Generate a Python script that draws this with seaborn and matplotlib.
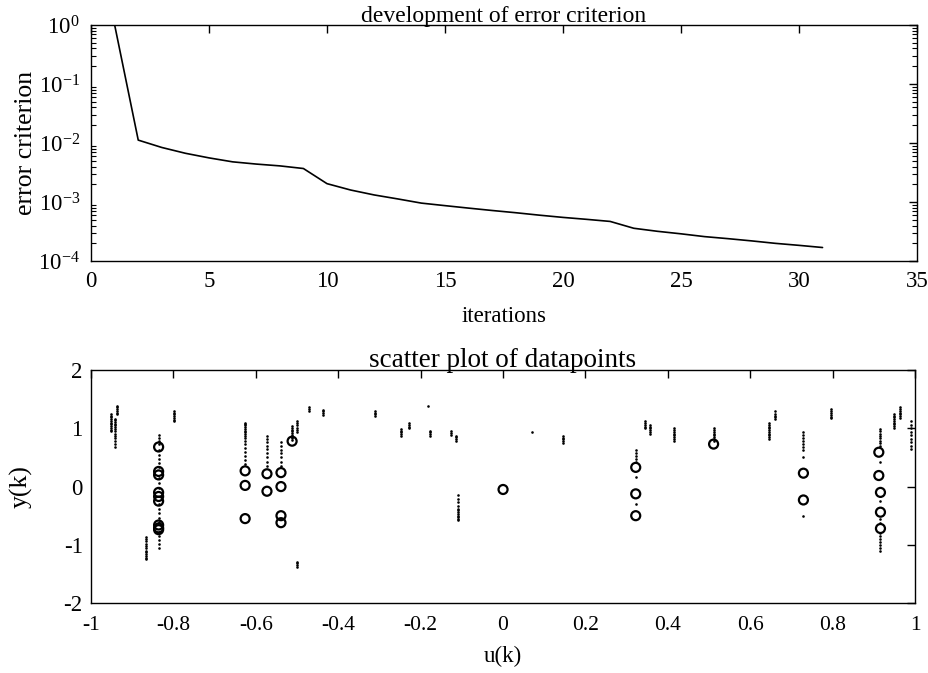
import matplotlib
matplotlib.use("Agg")
import matplotlib.pyplot as plt
import numpy as np
import pandas as pd
import seaborn as sns
from matplotlib.ticker import LogLocator, NullFormatter, FixedLocator, NullLocator

# ---- training history -------------------------------------------------------
iterations = list(range(1, 32))
error_criterion = [1.0, 0.0112, 0.0084, 0.0067, 0.0056, 0.0048, 0.0044, 0.0041,
                   0.0037, 0.00205, 0.0016, 0.00132, 0.00113, 0.00096, 0.00087,
                   0.00079, 0.00072, 0.00066, 0.0006, 0.00055, 0.00051, 0.00047,
                   0.00036, 0.00032, 0.00029, 0.00026, 0.00024, 0.00022, 0.0002,
                   0.000185, 0.00017]

# ---- data points, grouped by input value u(k) -------------------------------
column_u = [-0.952, -0.942, -0.936, -0.866, -0.836, -0.798, -0.626, -0.573,
            -0.539, -0.512, -0.499, -0.500, -0.472, -0.437, -0.310, -0.247,
            -0.229, -0.182, -0.177, -0.126, -0.113, -0.110, 0.070, 0.146,
            0.322, 0.344, 0.357, 0.414, 0.511, 0.646, 0.660, 0.729, 0.796,
            0.914, 0.948, 0.964, 0.989]
column_y = [
    [0.95, 0.98, 1.01, 1.04, 1.07, 1.10, 1.13, 1.16, 1.19, 1.22, 1.25],
    [0.68, 0.73, 0.78, 0.83, 0.87, 0.91, 0.95, 0.99, 1.02, 1.05, 1.08, 1.11, 1.14, 1.16],
    [1.24, 1.27, 1.30, 1.33, 1.36, 1.38],
    [-1.25, -1.22, -1.19, -1.16, -1.13, -1.10, -1.06, -1.02, -0.98, -0.94, -0.90, -0.87],
    [0.88, 0.83, 0.78, 0.73, 0.62, 0.55, 0.48, 0.40, 0.33, 0.14, 0.06, -0.03,
     -0.30, -0.38, -0.46, -0.54, -0.60, -0.78, -0.85, -0.92, -0.99, -1.05],
    [1.12, 1.15, 1.18, 1.21, 1.24, 1.27, 1.29],
    [0.39, 0.46, 0.53, 0.60, 0.67, 0.74, 0.79, 0.84, 0.87, 0.90, 0.93, 0.96,
     0.99, 1.02, 1.05, 1.08, 1.10],
    [0.36, 0.43, 0.50, 0.57, 0.64, 0.70, 0.76, 0.82, 0.87],
    [0.36, 0.43, 0.50, 0.57, 0.63, 0.70, 0.76],
    [0.80, 0.83, 0.86, 0.89, 0.92, 0.95, 0.98, 1.01, 1.04],
    [0.93, 0.97, 1.01, 1.05, 1.09, 1.13],
    [-1.38, -1.35, -1.32, -1.29],
    [1.30, 1.33, 1.36],
    [1.23, 1.26, 1.29, 1.31],
    [1.21, 1.24, 1.27, 1.29],
    [0.87, 0.90, 0.93, 0.96, 0.99],
    [1.00, 1.03, 1.06, 1.09],
    [1.38],
    [0.87, 0.90, 0.93, 0.96],
    [0.89, 0.92, 0.95],
    [0.79, 0.82, 0.85, 0.87],
    [-0.15, -0.21, -0.27, -0.33, -0.38, -0.41, -0.44, -0.47, -0.50, -0.53, -0.56, -0.58],
    [0.94],
    [0.75, 0.78, 0.81, 0.84, 0.87],
    [0.62, 0.57, 0.52, 0.47, 0.42, 0.16, -0.30],
    [1.00, 1.03, 1.06, 1.09, 1.12],
    [0.91, 0.94, 0.97, 1.00, 1.03, 1.06],
    [0.79, 0.82, 0.85, 0.88, 0.91, 0.94, 0.97, 1.00],
    [0.79, 0.82, 0.85, 0.88, 0.91, 0.94, 0.97, 1.00],
    [0.82, 0.85, 0.88, 0.91, 0.94, 0.97, 1.00, 1.03, 1.06, 1.10],
    [1.16, 1.19, 1.22, 1.25, 1.29],
    [0.93, 0.88, 0.83, 0.78, 0.73, 0.68, 0.62, 0.50, -0.50],
    [1.17, 1.20, 1.23, 1.26, 1.29, 1.33],
    [0.99, 0.95, 0.91, 0.87, 0.83, 0.79, 0.75, 0.70, 0.42, -0.25, -0.55, -0.62,
     -0.80, -0.85, -0.90, -0.95, -1.00, -1.05, -1.10],
    [1.01, 1.04, 1.07, 1.10, 1.13, 1.16, 1.19, 1.22, 1.24],
    [1.18, 1.21, 1.24, 1.27, 1.30, 1.33, 1.36],
    [0.64, 0.70, 0.76, 0.82, 0.88, 0.94, 1.00, 1.06, 1.13],
]

# ---- cluster centres --------------------------------------------------------
center_u = [-0.836, -0.836, -0.836, -0.836, -0.836, -0.836, -0.836, -0.836,
            -0.836, -0.626, -0.626, -0.626, -0.573, -0.573, -0.539, -0.539,
            -0.539, -0.539, -0.512, 0.000, 0.322, 0.322, 0.322, 0.511, 0.729,
            0.729, 0.912, 0.912, 0.916, 0.916, 0.916]
center_y = [0.68, 0.26, 0.20, -0.10, -0.17, -0.25, -0.66, -0.71, -0.74,
            0.27, 0.02, -0.55, 0.22, -0.08, 0.24, 0.00, -0.50, -0.62, 0.78,
            -0.05, 0.33, -0.125, -0.50, 0.73, 0.23, -0.23, 0.59, 0.19, -0.10,
            -0.44, -0.72]

history = pd.DataFrame({"iterations": iterations, "error": error_criterion})
points = pd.DataFrame({
    "u": [u for u, ys in zip(column_u, column_y) for _ in ys],
    "y": [v for ys in column_y for v in ys],
})
centers = pd.DataFrame({"u": center_u, "y": center_y})

# ---- styling ----------------------------------------------------------------
sns.set_theme(style="white")
plt.rcParams.update({
    "font.family": ["Liberation Serif", "DejaVu Serif"],
    "mathtext.fontset": "custom",
    "mathtext.rm": "Liberation Serif",
    "mathtext.it": "Liberation Serif:italic",
    "mathtext.default": "regular",
    "axes.unicode_minus": False,
    "axes.edgecolor": "black",
    "axes.linewidth": 1.0,
    "xtick.direction": "in",
    "ytick.direction": "in",
    "xtick.top": True,
    "ytick.right": True,
    "xtick.color": "black",
    "ytick.color": "black",
    "xtick.major.size": 6,
    "ytick.major.size": 6,
    "ytick.minor.size": 3.5,
    "xtick.major.width": 1.0,
    "ytick.major.width": 1.0,
    "ytick.minor.width": 0.8,
    "text.color": "black",
    "axes.labelcolor": "black",
})

fig = plt.figure(figsize=(9.29, 6.73), dpi=100)
ax1 = fig.add_axes([0.098, 0.612, 0.889, 0.351])
ax2 = fig.add_axes([0.098, 0.104, 0.887, 0.346])

# top: error criterion over iterations
sns.lineplot(data=history, x="iterations", y="error", ax=ax1,
             color="black", linewidth=1.2)
ax1.set_yscale("log")
ax1.set_xlim(0, 35)
ax1.set_ylim(1e-4, 1e0)
ax1.set_xticks(range(0, 36, 5))
ax1.xaxis.set_minor_locator(NullLocator())
ax1.yaxis.set_major_locator(LogLocator(base=10, numticks=10))
ax1.yaxis.set_minor_locator(LogLocator(base=10, subs=np.arange(2, 10), numticks=20))
ax1.yaxis.set_minor_formatter(NullFormatter())
ax1.tick_params(axis="x", labelsize=16.5, pad=7)
ax1.tick_params(axis="y", which="both", labelsize=16.5, pad=8)
ax1.tick_params(axis="y", which="minor", direction="in", left=True, right=True)
ax1.set_title("development of error criterion", fontsize=17, pad=2)
ax1.set_xlabel("iterations", fontsize=16.5, labelpad=10)
ax1.set_ylabel("error criterion", fontsize=18.5, labelpad=1)

# bottom: data points and centres
sns.scatterplot(data=points, x="u", y="y", ax=ax2, color="black",
                s=3.5, linewidth=0, marker="o")
sns.scatterplot(data=centers, x="u", y="y", ax=ax2, marker="o", s=42,
                facecolor="none", edgecolor="black", linewidth=1.6)
ax2.set_xlim(-1, 1)
ax2.set_ylim(-2, 2)
ax2.xaxis.set_major_locator(FixedLocator(np.round(np.arange(-1, 1.01, 0.2), 1)))
ax2.set_xticklabels(["-1", "-0.8", "-0.6", "-0.4", "-0.2", "0",
                     "0.2", "0.4", "0.6", "0.8", "1"])
ax2.set_yticks([-2, -1, 0, 1, 2])
ax2.tick_params(axis="x", labelsize=15.5, pad=9)
ax2.tick_params(axis="y", labelsize=16.5, pad=6)
ax2.set_title("scatter plot of datapoints", fontsize=19.5, pad=2)
ax2.set_xlabel("u(k)", fontsize=16.5, labelpad=8)
ax2.set_ylabel("y(k)", fontsize=18.5, labelpad=22)

for ax in (ax1, ax2):
    for spine in ax.spines.values():
        spine.set_visible(True)
        spine.set_color("black")

fig.savefig("out.png", dpi=100, facecolor="white")
